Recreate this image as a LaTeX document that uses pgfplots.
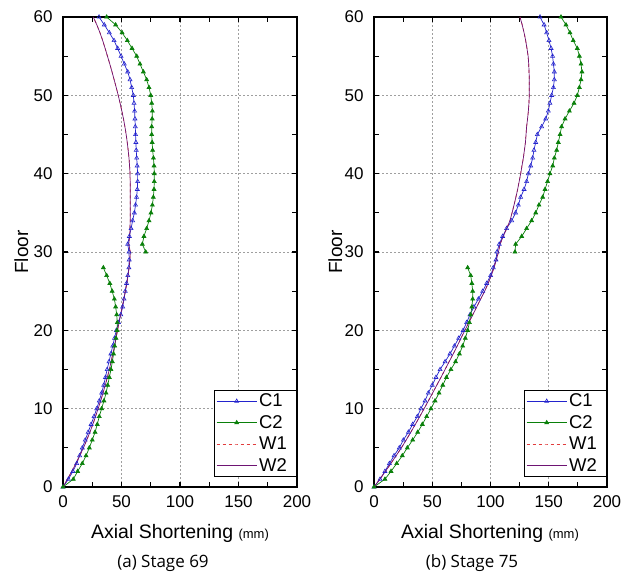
\documentclass[border=0pt]{standalone}
\usepackage{fontspec}
\setmainfont{Liberation Sans}
\newfontfamily\capfont{Open Sans}
\usepackage{pgfplots}
\pgfplotsset{compat=1.18}
\definecolor{cC1}{RGB}{35,35,205}
\definecolor{cC2}{RGB}{10,128,10}
\definecolor{cW1}{RGB}{225,60,60}
\definecolor{cW2}{RGB}{110,20,115}

\pgfplotsset{
  myax/.style={
    scale only axis, height=470pt,
    xmin=0, xmax=200, ymin=0, ymax=60,
    xtick={0,50,...,200}, minor xtick={25,75,125,175},
    ytick={0,10,...,60}, minor ytick={5,15,...,55},
    tick align=inside, major tick length=5pt, minor tick length=5pt,
    xmajorgrids, ymajorgrids,
    grid style={dash pattern=on 2pt off 2pt, gray!75, line width=0.7pt},
    axis line style={line width=1.4pt},
    every tick/.style={line width=1.2pt, black},
    /pgf/number format/assume math mode=true,
    ticklabel style={font=\fontsize{17}{20}\selectfont},
    xticklabel style={yshift=-5pt},
    yticklabel style={xshift=-7pt},
    legend style={at={(1,0.0213)}, anchor=south east,
      font=\fontsize{18.5}{22}\selectfont, draw=black, line width=0.9pt,
      cells={anchor=west}, row sep=3pt, inner xsep=1.5pt, inner ysep=2pt},
    legend image code/.code={\draw[mark repeat=2,mark phase=2,#1] plot coordinates {(0pt,0pt) (20pt,0pt) (40pt,0pt)};},
  },
  c1/.style={color=cC1, line width=0.7pt, mark=triangle, mark size=2.3pt, mark options={solid, line width=0.6pt}},
  c2/.style={color=cC2, line width=0.7pt, mark=triangle*, mark size=2.2pt, mark options={solid}},
  w1/.style={color=cW1, line width=0.7pt, dashed, no markers},
  w2/.style={color=cW2, line width=0.7pt, no markers},
}

\begin{document}
\begin{tikzpicture}[x=1pt,y=1pt]
\useasboundingbox (0,0) rectangle (634,576);

% ---------------- (a) Stage 69 ----------------
\begin{axis}[myax, width=234pt, at={(63pt,89pt)}, anchor=south west]
\addplot[c1] coordinates {
(0,0) (4.6,1) (8.5,2) (11.7,3) (14.2,4) (16.5,5) (19,6) (21.5,7) (24,8) (26.5,9)
(28.8,10) (31,11) (33,12) (34.8,13) (36.3,14) (37.7,15) (39.3,16) (40.9,17) (42.5,18) (44,19)
(45.6,20) (47.5,21) (49.4,22) (51,23) (52.2,24) (53.2,25) (54.3,26) (55.4,27) (56.3,28) (56.6,29)
(56.4,30) (55.3,31) (56.7,32) (58.2,33) (59.5,34) (61,35) (62,36) (62.9,37) (63.5,38) (63.8,39)
(63.8,40) (63.4,41) (63,42) (62.6,43) (62.3,44) (62,45) (61.8,46) (61.5,47) (61.2,48) (60.7,49)
(60.1,50) (58.7,51) (57.3,52) (55.3,53) (52.4,54) (49.6,55) (46.7,56) (43.6,57) (39.6,58) (35.3,59)
(30.8,60)};
\addlegendentry{\makebox[34pt][l]{C1}}
\addplot[c2] coordinates {
(0,0) (8.8,1) (12.5,2) (16.5,3) (19.7,4) (22.5,5) (25,6) (27.4,7) (29.3,8) (31,9)
(33,10) (35,11) (36.8,12) (38.2,13) (39.6,14) (41,15) (42.2,16) (43.2,17) (44.2,18) (45.3,19)
(46.2,20) (46.4,21) (45.9,22) (45,23) (43.9,24) (42,25) (40,26) (37.3,27) (34.5,28)
};
\addlegendentry{\makebox[34pt][l]{C2}}
\addplot[w1] coordinates {
(0,0) (3.8,1) (7.5,2) (11,3) (14.3,4) (17.5,5) (20.3,6) (23,7) (25.5,8) (27.8,9)
(30,10) (32.2,11) (34.2,12) (36.1,13) (37.9,14) (39.6,15) (41.1,16) (42.6,17) (44,18) (45.3,19)
(46.6,20) (47.9,21) (49.2,22) (50.6,23) (52,24) (53.3,25) (54.6,26) (55.6,27) (56.5,28) (57.2,29)
(57.5,30) (56.2,31) (57,32) (57.3,33) (57.4,34) (57.5,35) (57.5,36) (57.5,37) (57.4,38) (57.4,39)
(57.3,40) (56.9,41) (56.4,42) (55.7,43) (54.9,44) (54,45) (52.9,46) (51.7,47) (50.3,48) (48.8,49)
(47.2,50) (45.5,51) (43.7,52) (41.9,53) (40,54) (38,55) (36,56) (33.9,57) (31.6,58) (28.9,59)
(25.9,60)};
\addlegendentry{\makebox[34pt][l]{W1}}
\addplot[w2] coordinates {
(0,0) (3.8,1) (7.5,2) (11,3) (14.3,4) (17.5,5) (20.3,6) (23,7) (25.5,8) (27.8,9)
(30,10) (32.2,11) (34.2,12) (36.1,13) (37.9,14) (39.6,15) (41.1,16) (42.6,17) (44,18) (45.3,19)
(46.6,20) (47.9,21) (49.2,22) (50.6,23) (52,24) (53.3,25) (54.6,26) (55.6,27) (56.5,28) (57.2,29)
(57.5,30) (56.2,31) (57,32) (57.3,33) (57.4,34) (57.5,35) (57.5,36) (57.5,37) (57.4,38) (57.4,39)
(57.3,40) (56.9,41) (56.4,42) (55.7,43) (54.9,44) (54,45) (52.9,46) (51.7,47) (50.3,48) (48.8,49)
(47.2,50) (45.5,51) (43.7,52) (41.9,53) (40,54) (38,55) (36,56) (33.9,57) (31.6,58) (28.9,59)
(25.9,60)};
\addlegendentry{\makebox[34pt][l]{W2}}
\addplot[c2, forget plot] coordinates {
(70.7,30) (67.8,31) (69.2,32) (71.5,33) (73.5,34) (75.2,35) (76.4,36) (77.2,37) (77.8,38) (78,39)
(78,40) (77.8,41) (77.3,42) (76.6,43) (76.2,44) (75.8,45) (75.8,46) (76.2,47) (76.4,48) (75.8,49)
(75,50) (73.5,51) (71.5,52) (68.7,53) (65.8,54) (63,55) (59,56) (55,57) (50.5,58) (45,59)
(37.3,60)};
\end{axis}

% ---------------- (b) Stage 75 ----------------
\begin{axis}[myax, width=233pt, at={(374pt,89pt)}, anchor=south west]
\addplot[c1] coordinates {
(0,0) (5.2,1) (9.4,2) (13.2,3) (17.2,4) (21.7,5) (25.2,6) (29.5,7) (33.2,8) (37.2,9)
(40.3,10) (43.8,11) (46.6,12) (50,13) (53.2,14) (56.7,15) (61,16) (65.2,17) (69,18) (72.7,19)
(76.5,20) (79.5,21) (82.4,22) (85.8,23) (89.6,24) (93.3,25) (96.7,26) (100.1,27) (102.4,28) (104.7,29)
(105.5,30) (107.5,31) (110.4,32) (113.8,33) (118.2,34) (121.5,35) (123.9,36) (125.9,37) (128.8,38) (131,39)
(132.5,40) (134.5,41) (136.2,42) (137.3,43) (138.8,44) (140.2,45) (143.9,46) (147.4,47) (149.6,48) (151,49)
(152.5,50) (154,51) (154.8,52) (154.8,53) (154,54) (153.3,55) (152,56) (150.2,57) (148.2,58) (146,59)
(142.5,60)};
\addlegendentry{\makebox[34pt][l]{C1}}
\addplot[c2] coordinates {
(0,0) (9.4,1) (14.6,2) (19.5,3) (24.3,4) (28.6,5) (33.2,6) (37.5,7) (41.5,8) (45.2,9)
(48.9,10) (52.4,11) (55.8,12) (59,13) (62.2,14) (66,15) (70,16) (73.3,17) (76.1,18) (78.4,19)
(80.4,20) (81.9,21) (83,22) (84,23) (84.7,24) (84.7,25) (84,26) (83,27) (80.4,28)
};
\addlegendentry{\makebox[34pt][l]{C2}}
\addplot[w1] coordinates {
(0,0) (5,1) (9.8,2) (14.5,3) (19,4) (23.5,5) (27.6,6) (31.6,7) (35.5,8) (39.3,9)
(43,10) (46.7,11) (50.3,12) (53.9,13) (57.5,14) (61,15) (64.5,16) (68,17) (71.4,18) (74.7,19)
(78,20) (81.4,21) (84.8,22) (88.2,23) (91.6,24) (95,25) (98,26) (100.7,27) (103,28) (105,29)
(106.8,30) (108.2,31) (111,32) (113.9,33) (116.7,34) (118.5,35) (120.2,36) (121.8,37) (123.3,38) (124.6,39)
(125.9,40) (127,41) (128.2,42) (129.1,43) (130,44) (130.5,45) (131,46) (131.8,47) (132.5,48) (133,49)
(133.3,50) (133.3,51) (133.3,52) (133.1,53) (132.8,54) (132.3,55) (131.3,56) (130.2,57) (128.8,58) (127.2,59)
(125.3,60)};
\addlegendentry{\makebox[34pt][l]{W1}}
\addplot[w2] coordinates {
(0,0) (5,1) (9.8,2) (14.5,3) (19,4) (23.5,5) (27.6,6) (31.6,7) (35.5,8) (39.3,9)
(43,10) (46.7,11) (50.3,12) (53.9,13) (57.5,14) (61,15) (64.5,16) (68,17) (71.4,18) (74.7,19)
(78,20) (81.4,21) (84.8,22) (88.2,23) (91.6,24) (95,25) (98,26) (100.7,27) (103,28) (105,29)
(106.8,30) (108.2,31) (111,32) (113.9,33) (116.7,34) (118.5,35) (120.2,36) (121.8,37) (123.3,38) (124.6,39)
(125.9,40) (127,41) (128.2,42) (129.1,43) (130,44) (130.5,45) (131,46) (131.8,47) (132.5,48) (133,49)
(133.3,50) (133.3,51) (133.3,52) (133.1,53) (132.8,54) (132.3,55) (131.3,56) (130.2,57) (128.8,58) (127.2,59)
(125.3,60)};
\addlegendentry{\makebox[34pt][l]{W2}}
\addplot[c2, forget plot] coordinates {
(121,30) (121.6,31) (126.8,32) (131,33) (135.3,34) (138.8,35) (141.6,36) (144.8,37) (146.8,38) (149,39)
(151,40) (153.4,41) (154.8,42) (156.8,43) (158.2,44) (159.7,45) (161,46) (164,47) (167.7,48) (171.7,49)
(174.5,50) (176.3,51) (177.7,52) (178.5,53) (177.7,54) (176.3,55) (174.5,56) (171,57) (168.2,58) (164.8,59)
(160.5,60)};
\end{axis}

% ---------------- labels ----------------
\node[rotate=90, anchor=base, font=\fontsize{19}{22}\selectfont] at (28,324) {Floor};
\node[rotate=90, anchor=base, font=\fontsize{19}{22}\selectfont] at (342,324) {Floor};
\node[anchor=base, font=\fontsize{19.5}{23}\selectfont] at (180,38) {Axial Shortening {\fontsize{13}{15}\selectfont(mm)}};
\node[anchor=base, font=\fontsize{19.5}{23}\selectfont] at (490,38) {Axial Shortening {\fontsize{13}{15}\selectfont(mm)}};
\node[anchor=base, font=\capfont\fontsize{17}{20}\selectfont] at (163,9) {(a) Stage 69};
\node[anchor=base, font=\capfont\fontsize{17}{20}\selectfont] at (472,9) {(b) Stage 75};
\end{tikzpicture}
\end{document}
